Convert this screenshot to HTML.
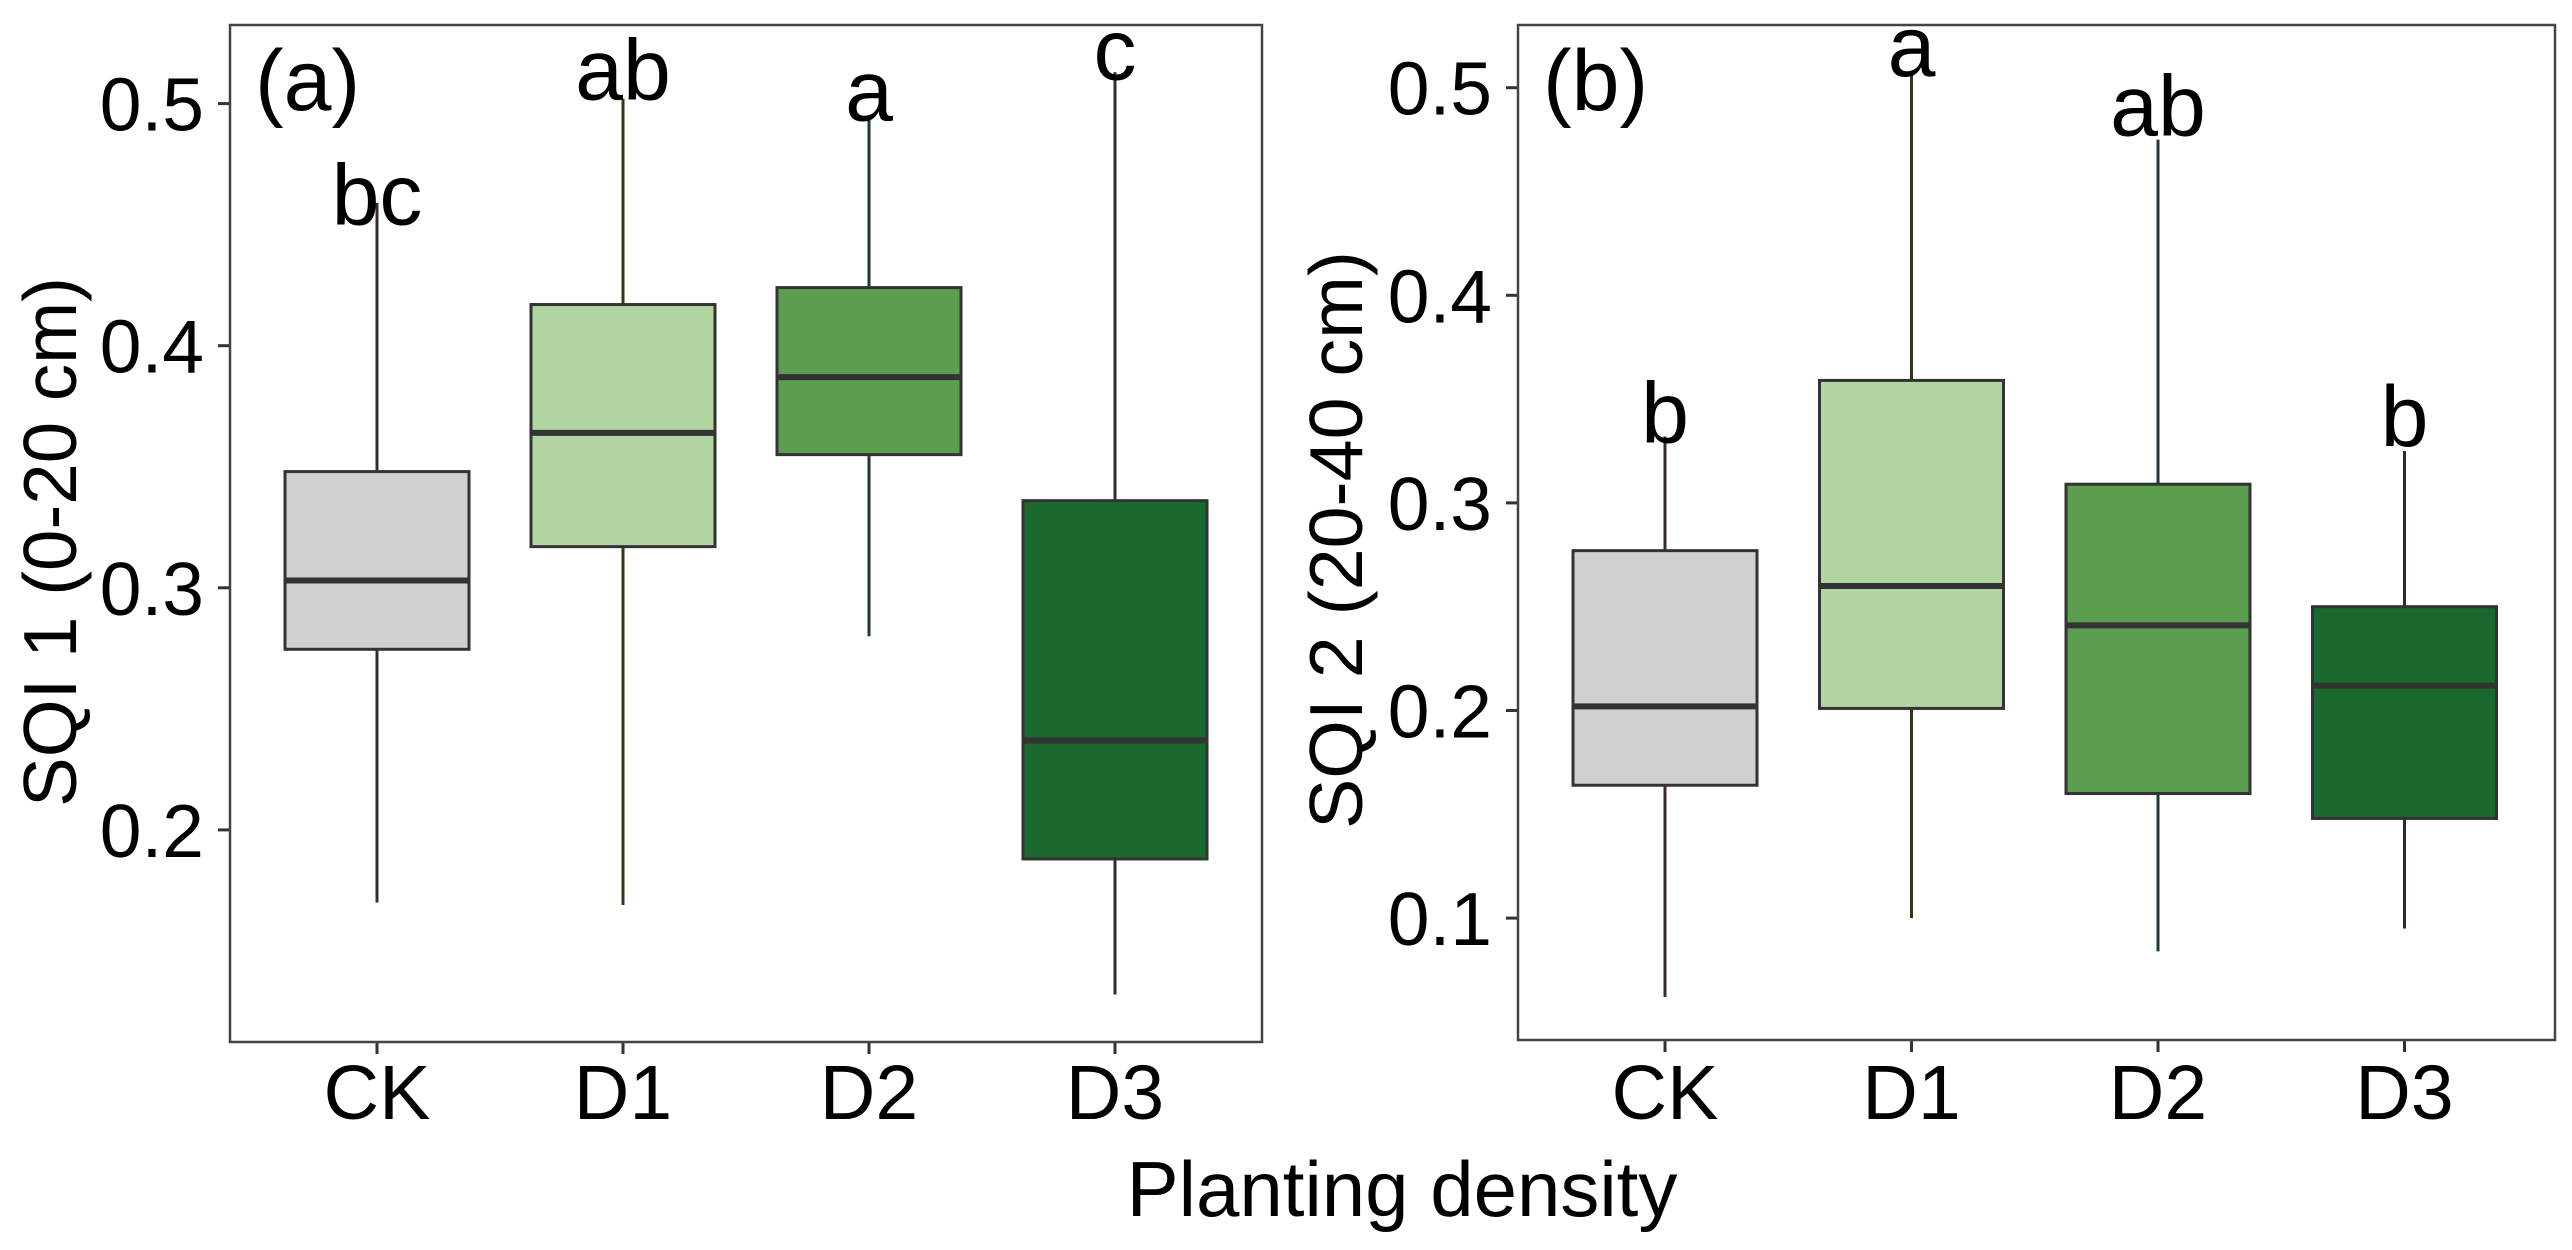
<!DOCTYPE html>
<html><head><meta charset="utf-8"><style>
html,body{margin:0;padding:0;background:#fff;}
svg{display:block;font-family:"Liberation Sans",sans-serif;}
</style></head><body>
<svg id="chart" width="2572" height="1250" viewBox="0 0 2572 1250" xmlns="http://www.w3.org/2000/svg">
<rect width="2572" height="1250" fill="#fff"/>
<text x="1402" y="1216" font-size="78" text-anchor="middle" fill="#000">Planting density</text>
</svg>
<script>
const categories = ["CK","D1","D2","D3"];
const fills = ["#d0d0d0","#b1d5a0","#5c9e50","#19692e"];
const whiskerColors = ["#3b2a2a","#2f3a1a","#1c3a3a","#2d2a3a"];
// panel a: SQI 1 (0-20 cm)
const aMin = [0.170,0.169,0.280,0.132];
const aQ1 = [0.2746,0.317,0.355,0.188];
const aMed = [0.303,0.364,0.387,0.237];
const aQ3 = [0.348,0.417,0.424,0.336];
const aMax = [0.459,0.502,0.494,0.513];
const aLetters = ["bc","ab","a","c"];
const aLetterY = [0.450,0.5016,0.4931,0.5099];
const aTicks = [0.2,0.3,0.4,0.5];
// panel b: SQI 2 (20-40 cm)
const bMin = [0.062,0.100,0.084,0.095];
const bQ1 = [0.164,0.201,0.160,0.148];
const bMed = [0.202,0.260,0.241,0.212];
const bQ3 = [0.277,0.359,0.309,0.250];
const bMax = [0.332,0.506,0.475,0.325];
const bLetters = ["b","a","ab","b"];
const bLetterY = [0.3290,0.5056,0.477,0.3274];
const bTicks = [0.1,0.2,0.3,0.4,0.5];

const NS = "http://www.w3.org/2000/svg";
const svg = document.getElementById("chart");
function mk(tag, attrs, parent){
  const e = document.createElementNS(NS, tag);
  for (const k in attrs) e.setAttribute(k, attrs[k]);
  (parent||svg).appendChild(e);
  return e;
}
function panel(cfg){
  const g = mk("g", {});
  
  
  const y = v => cfg.y0 + (cfg.v0 - v) * cfg.k;
  const x = i => cfg.xs + i * cfg.dx;
  cfg.ticks.forEach(t => {
    const tl = mk("line", {x1:cfg.left-12, x2:cfg.left, y1:y(t), y2:y(t), stroke:"#333", "stroke-width":3}, g);
    
    
    const tx = mk("text", {x:cfg.labelX, y:y(t)+27, "font-size":75, "text-anchor":"end", fill:"#000"}, g);
    tx.textContent = t.toFixed(1);
    
    
  });
  categories.forEach((c, i) => {
    const cx = x(i);
    const xt = mk("line", {x1:cx, x2:cx, y1:cfg.bottom, y2:cfg.bottom+12, stroke:"#333", "stroke-width":3}, g);
    
    
    const xl = mk("text", {x:cx, y:1119, "font-size":77, "text-anchor":"middle", fill:"#000"}, g);
    xl.textContent = c;
    
    
    const w = mk("line", {x1:cx, x2:cx, y1:y(cfg.max[i]), y2:y(cfg.min[i]), stroke:whiskerColors[i], "stroke-width":3}, g);
    
    
    const b = mk("rect", {x:cx-92, y:y(cfg.q3[i]), width:184, height:y(cfg.q1[i])-y(cfg.q3[i]), fill:fills[i], stroke:"#333", "stroke-width":3}, g);
    
    
    const m = mk("line", {x1:cx-92, x2:cx+92, y1:y(cfg.med[i]), y2:y(cfg.med[i]), stroke:"#333", "stroke-width":6}, g);
    
    
    const lt = mk("text", {x:cx, y:y(cfg.letterY[i]), "font-size":86, "text-anchor":"middle", fill:"#000"}, g);
    lt.textContent = cfg.letters[i];
    
    
  });
  const fr = mk("rect", {x:cfg.left, y:cfg.top, width:cfg.right-cfg.left, height:cfg.bottom-cfg.top, fill:"none", stroke:"#444", "stroke-width":2.5}, g);
  
  
  const pl = mk("text", {x:cfg.left+25, y:110, "font-size":86, fill:"#000"}, g);
  pl.textContent = cfg.tag;
  
  
  const yt = mk("text", {x:0, y:0, "font-size":75, "text-anchor":"middle", fill:"#000",
    transform:"translate(" + cfg.titleX + "," + cfg.titleY + ") rotate(-90)", textLength:cfg.titleLen, lengthAdjust:"spacingAndGlyphs"}, g);
  yt.textContent = cfg.title;
  
  
}
panel({name:"panel-a", left:230, right:1262, top:25, bottom:1042, xs:377, dx:246,
  y0:103.6, v0:0.5, k:2421, labelX:204, ticks:aTicks,
  min:aMin, q1:aQ1, med:aMed, q3:aQ3, max:aMax, letters:aLetters, letterY:aLetterY,
  tag:"(a)", title:"SQI 1 (0-20 cm)", titleX:76, titleY:542, titleLen:530});
panel({name:"panel-b", left:1518, right:2555, top:25, bottom:1040, xs:1665, dx:246.5,
  y0:87.7, v0:0.5, k:2076, labelX:1492, ticks:bTicks,
  min:bMin, q1:bQ1, med:bMed, q3:bQ3, max:bMax, letters:bLetters, letterY:bLetterY,
  tag:"(b)", title:"SQI 2 (20-40 cm)", titleX:1362, titleY:540, titleLen:578});
</script>
</body></html>
